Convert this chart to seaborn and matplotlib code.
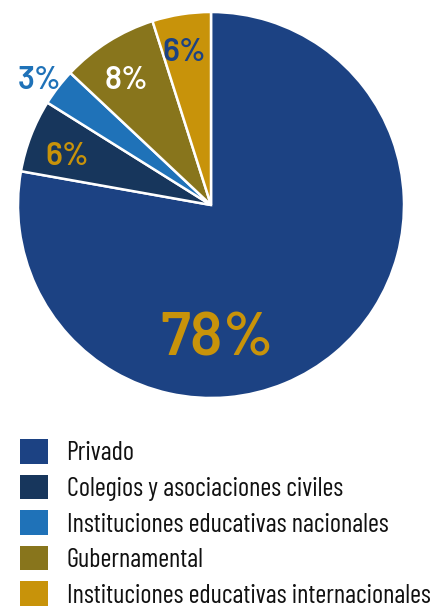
import numpy as np
import matplotlib
matplotlib.use("Agg")
import matplotlib.pyplot as plt
import matplotlib.patches as mpatches
import seaborn as sns

sns.set_theme(style="white")
plt.rcParams['font.family'] = ['Barlow Condensed', 'DejaVu Sans']

# data (clockwise from 12 o'clock)
categories = [
    "Privado",
    "Colegios y asociaciones civiles",
    "Instituciones educativas nacionales",
    "Gubernamental",
    "Instituciones educativas internacionales",
]
shares = [77.8, 6.1, 3.1, 8.1, 4.9]
pct_labels = ["78%", "6%", "3%", "8%", "6%"]

colors = ["#1c4283", "#17365c", "#1f72b8", "#88751c", "#c8930a"]
label_colors = ["#c8930a", "#c8930a", "#1f72b8", "#ffffff", "#1c4283"]
label_radius = [0.70, 0.79, 1.11, 0.8, 0.83]
label_sizes = [44, 23, 23, 23, 23]

fig = plt.figure(figsize=(4.33, 6.08), dpi=100)
ax = fig.add_axes([18 / 433, 1 - 398 / 608, 386 / 433, 386 / 608])

wedges, _ = ax.pie(
    shares,
    colors=colors,
    startangle=90,
    counterclock=False,
    radius=1,
    wedgeprops=dict(edgecolor="white", linewidth=1.8),
)
ax.set_xlim(-1, 1)
ax.set_ylim(-1, 1)
ax.set_aspect("equal")
ax.axis("off")

for i, w in enumerate(wedges):
    if i == 0:
        # big label sits straight below the centre
        x, y = 0.03, -label_radius[i]
    else:
        mid = np.deg2rad((w.theta1 + w.theta2) / 2)
        x = label_radius[i] * np.cos(mid) - 0.01
        y = label_radius[i] * np.sin(mid) - 0.03
    ax.text(x, y, pct_labels[i], ha="center", va="center",
            color=label_colors[i], fontsize=label_sizes[i],
            family=["Barlow", "DejaVu Sans"], fontweight="semibold")

handles = [mpatches.Patch(facecolor=c, edgecolor="none") for c in colors]
fig.legend(handles, categories, loc="upper left",
           bbox_to_anchor=(-1 / 433, 1 - 418 / 608),
           frameon=False, fontsize=19, labelcolor="#111111",
           handlelength=1.06, handleheight=1.06,
           handletextpad=0.7, labelspacing=0.35, borderpad=0.3)

fig.savefig("out.png", dpi=100)
